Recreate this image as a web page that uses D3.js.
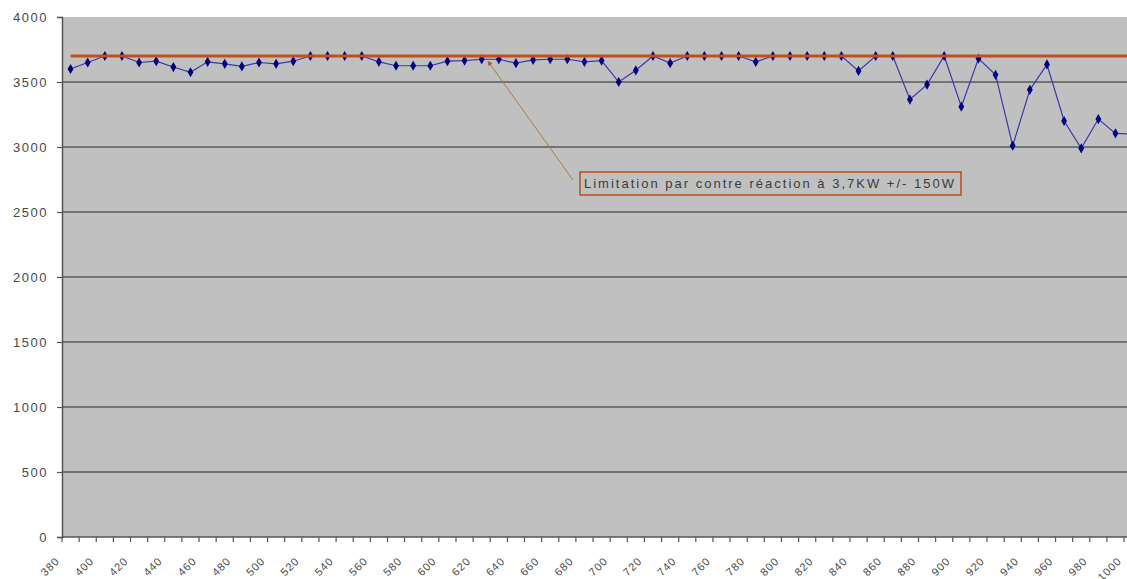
<!DOCTYPE html>
<html>
<head>
<meta charset="utf-8">
<script src="https://cdn.jsdelivr.net/npm/d3@7"></script>
<style>
  body { margin: 0; background: #fff; }
  svg { display: block; font-family: "Liberation Sans", Arial, sans-serif; }
</style>
</head>
<body>
<div id="chart"></div>
<script>
var w = 1127;
var h = 579;

// categories 380 .. 1000
var cats = [380, 390, 400, 410, 420, 430, 440, 450, 460, 470,
            480, 490, 500, 510, 520, 530, 540, 550, 560, 570,
            580, 590, 600, 610, 620, 630, 640, 650, 660, 670,
            680, 690, 700, 710, 720, 730, 740, 750, 760, 770,
            780, 790, 800, 810, 820, 830, 840, 850, 860, 870,
            880, 890, 900, 910, 920, 930, 940, 950, 960, 970,
            980, 990, 1000];

// measured power (W)
var power = [3600, 3650, 3700, 3700, 3650, 3660, 3615, 3575, 3655, 3640,
             3620, 3650, 3640, 3660, 3700, 3700, 3700, 3700, 3655, 3625,
             3625, 3625, 3660, 3665, 3675, 3675, 3645, 3670, 3675, 3675,
             3655, 3665, 3500, 3590, 3700, 3645, 3700, 3700, 3700, 3700,
             3655, 3700, 3700, 3700, 3700, 3700, 3585, 3700, 3700, 3365,
             3480, 3700, 3310, 3680, 3555, 3010, 3440, 3635, 3200, 2990,
             3215, 3105, 3100];

// limit line 3,7 kW
var limit = cats.map(function() { return 3700; });

var yTicks = [0, 500, 1000, 1500, 2000, 2500, 3000, 3500, 4000];
var xLabels = cats.filter(function(d, i) { return i % 2 === 0; });
var note = "Limitation par contre réaction à 3,7KW +/- 150W";

var padLeft = 62, plotTop = 17, plotBottom = 537;
var step = 17.13;

var svg = d3.select("#chart").append("svg")
            .attr("width", w)
            .attr("height", h);

var x = d3.scaleBand()
          .domain(cats)
          .range([padLeft, padLeft + cats.length * step]);

var y = d3.scaleLinear()
          .domain([0, 4000])
          .range([plotBottom, plotTop]);

var cx = function(d) { return x(d) + x.bandwidth() / 2; };

// plot area
svg.append("rect")
   .attr("x", padLeft)
   .attr("y", plotTop)
   .attr("width", cats.length * step)
   .attr("height", plotBottom - plotTop)
   .style("fill", "#c0c0c0");

// gridlines
svg.selectAll("line.grid")
   .data(yTicks.filter(function(d) { return d > 0 && d < 4000; }))
   .enter()
   .append("line")
   .attr("class", "grid")
   .attr("x1", padLeft)
   .attr("x2", w)
   .attr("y1", function(d) { return y(d); })
   .attr("y2", function(d) { return y(d); })
   .attr("stroke", "#5a5a5a")
   .attr("stroke-width", 1.5);

// y axis
var yAxis = d3.axisLeft(y)
              .tickValues(yTicks)
              .tickFormat(d3.format("d"))
              .tickSize(5)
              .tickPadding(9);

var gy = svg.append("g")
            .attr("transform", "translate(" + padLeft + ",0)")
            .call(yAxis);
gy.select(".domain").attr("stroke", "#555").attr("stroke-width", 1.5);
gy.selectAll(".tick line").attr("stroke", "#555").attr("stroke-width", 1.2);
gy.selectAll("text")
  .style("font-size", "13px")
  .style("letter-spacing", "1.5px")
  .style("fill", "#4a4a4a");

// x axis line + ticks at category borders
svg.append("line")
   .attr("x1", padLeft).attr("x2", w)
   .attr("y1", plotBottom).attr("y2", plotBottom)
   .attr("stroke", "#555")
   .attr("stroke-width", 1.5);

svg.selectAll("line.xtick")
   .data(cats)
   .enter()
   .append("line")
   .attr("class", "xtick")
   .attr("x1", function(d) { return x(d); })
   .attr("x2", function(d) { return x(d); })
   .attr("y1", plotBottom)
   .attr("y2", plotBottom + 5)
   .attr("stroke", "#555")
   .attr("stroke-width", 1.2);

svg.selectAll("text.xlab")
   .data(xLabels)
   .enter()
   .append("text")
   .attr("class", "xlab")
   .attr("transform", function(d) {
     return "translate(" + (cx(d) - 13) + "," + (plotBottom + 22) + ") rotate(-45)";
   })
   .attr("text-anchor", "end")
   .attr("dy", "0.35em")
   .style("font-size", "11px")
   .style("letter-spacing", "1px")
   .style("fill", "#4a4a4a")
   .text(function(d) { return d; });

// measured series
var line = d3.line()
             .x(function(d, i) { return cx(cats[i]); })
             .y(function(d) { return y(d); });

svg.append("path")
   .datum(power)
   .attr("d", line)
   .attr("fill", "none")
   .attr("stroke", "#3a3aa8")
   .attr("stroke-width", 1.2);

svg.selectAll("path.pt")
   .data(power)
   .enter()
   .append("path")
   .attr("class", "pt")
   .attr("d", d3.symbol().type(d3.symbolDiamond).size(30))
   .attr("transform", function(d, i) {
     return "translate(" + cx(cats[i]) + "," + y(d) + ")";
   })
   .style("fill", "#000080");

// limit line
svg.append("path")
   .datum(limit)
   .attr("d", line)
   .attr("fill", "none")
   .attr("stroke", "#c0501c")
   .attr("stroke-width", 3);

// annotation
svg.append("defs").append("marker")
   .attr("id", "arr")
   .attr("viewBox", "0 0 10 10")
   .attr("refX", 2).attr("refY", 5)
   .attr("markerWidth", 5).attr("markerHeight", 5)
   .attr("orient", "auto-start-reverse")
   .append("path")
   .attr("d", "M0,0 L10,5 L0,10 z")
   .style("fill", "#c8501a");

svg.append("line")
   .attr("x1", 573).attr("y1", 180)
   .attr("x2", 490).attr("y2", 64)
   .attr("stroke", "#a87c48")
   .attr("stroke-width", 1)
   .attr("marker-end", "url(#arr)");

svg.append("rect")
   .attr("x", 580).attr("y", 172)
   .attr("width", 381).attr("height", 23)
   .style("fill", "#c0c0c0")
   .attr("stroke", "#b8501e")
   .attr("stroke-width", 1.5);

svg.append("text")
   .attr("x", 584).attr("y", 188)
   .attr("textLength", 370)
   .attr("lengthAdjust", "spacing")
   .style("font-size", "13px")
   .style("fill", "#3c3c3c")
   .text(note);
</script>
</body>
</html>
